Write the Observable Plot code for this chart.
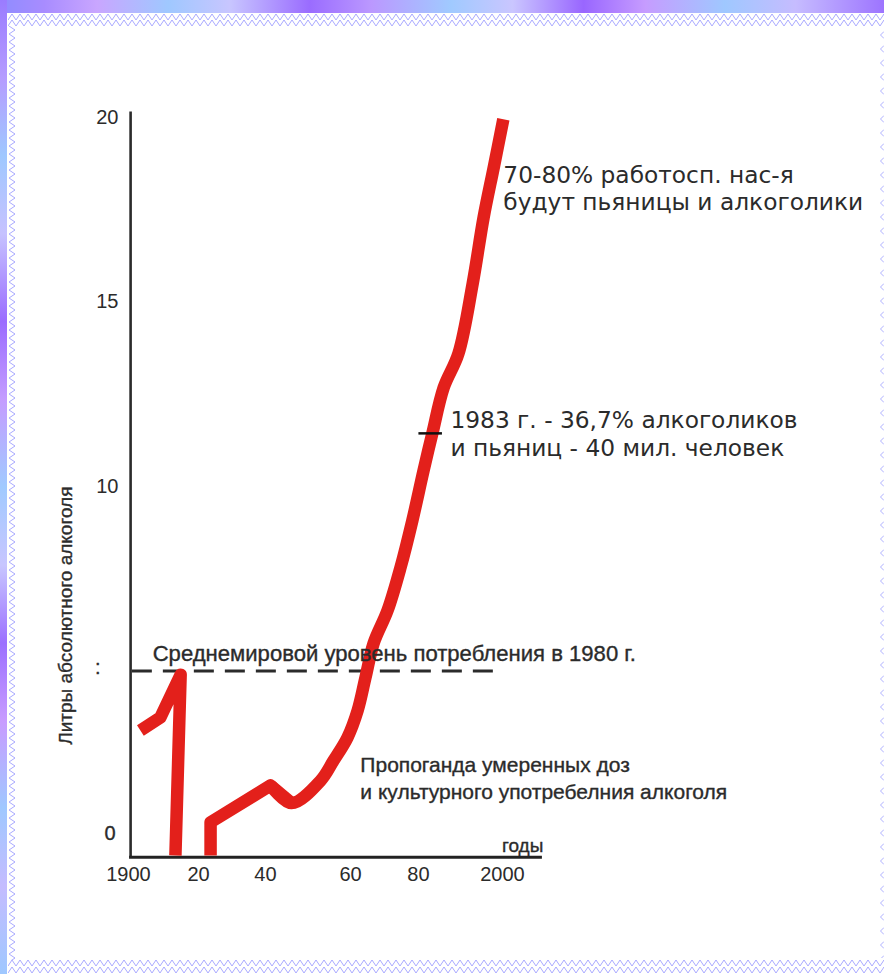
<!DOCTYPE html>
<html>
<head>
<meta charset="utf-8">
<script src="https://cdn.jsdelivr.net/npm/d3@7"></script>
<script src="https://cdn.jsdelivr.net/npm/@observablehq/plot@0.6"></script>
<style>
html, body { margin: 0; padding: 0; background: #fff; }
#wrap { position: relative; width: 884px; height: 974px; overflow: hidden; background: #fff; }
.deco { position: absolute; }
#topbar { left: 0; top: 0; width: 884px; height: 13px;
  background: linear-gradient(90deg, #8f8cff 0%, #a88cff 5%, #c9a6ff 11%, #9fc8ff 19%, #c8c6ff 26%, #9a6cff 35%, #bb98ff 42%, #a0caff 51%, #cac6ff 58%, #9966ff 66%, #c69cff 73%, #9fc8ff 82%, #c6bcff 90%, #9d74ff 100%); }
#leftbar { left: 0; top: 0; width: 7px; height: 974px;
  background: linear-gradient(180deg, #9a7cff 0%, #b59cff 8%, #9fc8ff 16%, #c6c2ff 24%, #9a6cff 33%, #c49cff 41%, #a0caff 50%, #c8c6ff 58%, #9b70ff 66%, #c89cff 74%, #9fc8ff 83%, #c4bcff 91%, #9fc8ff 100%); }
#topzig { left: 8px; top: 13px; width: 876px; height: 14px; background-repeat: repeat-x;
  background-image: url("data:image/svg+xml,%3Csvg xmlns='http://www.w3.org/2000/svg' width='8' height='14'%3E%3Cpath d='M0 7 L4 1 L8 7 M0 13 L4 7 L8 13' fill='none' stroke='%239f9fff' stroke-width='0.9'/%3E%3C/svg%3E"); }
#botzig { left: 8px; top: 959px; width: 876px; height: 15px; background-repeat: repeat-x;
  background-image: url("data:image/svg+xml,%3Csvg xmlns='http://www.w3.org/2000/svg' width='8' height='15'%3E%3Cpath d='M0 7 L4 1 L8 7 M0 14 L4 8 L8 14' fill='none' stroke='%239f9fff' stroke-width='0.9'/%3E%3C/svg%3E"); }
#leftzig { left: 7px; top: 26px; width: 10px; height: 934px; background-repeat: repeat-y;
  background-image: url("data:image/svg+xml,%3Csvg xmlns='http://www.w3.org/2000/svg' width='10' height='8'%3E%3Cpath d='M2 0 L8 4 L2 8' fill='none' stroke='%239f9fff' stroke-width='0.9'/%3E%3C/svg%3E"); }
#rightcirc { left: 875px; top: 28px; width: 9px; height: 930px; background-repeat: repeat-y;
  background-image: url("data:image/svg+xml,%3Csvg xmlns='http://www.w3.org/2000/svg' width='9' height='14'%3E%3Cpath d='M9 3.5 L5.5 7 L9 10.5' fill='none' stroke='%23aeb0ff' stroke-width='1'/%3E%3C/svg%3E"); }
#chart { position: absolute; left: 0; top: 0; }
</style>
</head>
<body>
<div id="wrap">
  <div class="deco" id="topbar"></div>
  <div class="deco" id="leftbar"></div>
  <div class="deco" id="topzig"></div>
  <div class="deco" id="botzig"></div>
  <div class="deco" id="leftzig"></div>
  <div class="deco" id="rightcirc"></div>
  <div id="chart"></div>
</div>
<script>
// ---- data ----
const xTicks = [1900, 1920, 1940, 1960, 1980, 2000];
const xTickLabels = ["1900", "20", "40", "60", "80", "2000"];
const yTicks = [10, 15, 20];
const yLowTicks = [0, 5];
const yLowLabels = ["0", ":"];

// segment before prohibition (rises, then drops to zero)
const earlyYears  = [1903.4, 1909.1, 1914.9, 1913.4];
const earlyValues = [3.39, 3.74, 4.90, 0];

// segment from the 1920s onward
const laterYears  = [1923.6, 1923.6, 1941.2, 1946.1, 1952.9, 1956.0, 1959.3, 1962.1, 1964.4, 1966.8, 1970.9, 1974.7, 1978.2, 1981.2, 1983.3, 1986.0, 1989.5, 1992.9, 1995.5, 1997.9, 2000.2];
const laterValues = [0, 0.90, 1.90, 1.42, 2.02, 2.57, 3.20, 3.93, 4.82, 5.75, 6.64, 7.80, 9.08, 10.43, 11.44, 12.68, 13.60, 15.50, 17.29, 18.64, 19.95];

const worldAverage = 5;          // world average consumption in 1980
const marker1983 = {year: 1982.9, value: 11.44};

const noteTop = "70-80% работосп. нас-я\nбудут пьяницы и алкоголики";
const note1983 = "1983 г. - 36,7% алкоголиков\nи пьяниц - 40 мил. человек";
const noteWorld = "Среднемировой уровень потребления в 1980 г.";
const notePropaganda = "Пропоганда умеренных доз\nи культурного употребелния алкоголя";
const yTitle = "Литры абсолютного алкоголя";
const xTitle = "годы";

// ---- build tables ----
const earlyData = earlyYears.map((year, i) => ({year, value: earlyValues[i]}));
const laterData = laterYears.map((year, i) => ({year, value: laterValues[i]}));
const laterCorner = laterData.slice(0, 4);   // sharp corners of the 1920s–40s
const laterRise = laterData.slice(2);        // smooth post-war rise (overlaps the corner part)

// the hand-drawn year axis is unevenly spaced: warp years before the linear scale
const yearWarp = d3.scaleLinear().domain(xTicks).range([1900, 1918.72, 1936.63, 1959.36, 1977.54, 2000]);
const warpedTicks = xTicks.map(d => yearWarp(d));

const ink = "#2b2b2b";
const red = "#e3201b";
const thick = {stroke: ink, strokeWidth: 0.35};

const chart = Plot.plot({
  width: 884,
  height: 974,
  marginLeft: 128,
  marginRight: 382,
  marginTop: 117,
  marginBottom: 119,
  style: {background: "transparent", color: ink, fontFamily: "'Liberation Sans', Arial, sans-serif", overflow: "visible"},
  x: {domain: [1900, 2000], transform: yearWarp},
  y: {domain: [0, 20]},
  marks: [
    // axis lines
    Plot.ruleX([1900.6], {y1: -0.05, y2: 20.15, stroke: ink, strokeWidth: 2.6}),
    Plot.ruleY([-0.05], {x1: 1900.3, x2: 2009.5, stroke: "#222", strokeWidth: 3}),
    // world average dashed line
    Plot.ruleY([worldAverage], {x1: 1901.1, x2: 1998.3, stroke: ink, strokeWidth: 3, strokeDasharray: "20,11"}),
    // the consumption curve
    Plot.line(earlyData, {x: "year", y: "value", stroke: red, strokeWidth: 12.5, strokeLinejoin: "round", strokeLinecap: "butt"}),
    Plot.line(laterCorner, {x: "year", y: "value", stroke: red, strokeWidth: 12.5, strokeLinejoin: "round", strokeLinecap: "butt"}),
    Plot.line(laterRise, {x: "year", y: "value", stroke: red, strokeWidth: 12.5, strokeLinejoin: "round", strokeLinecap: "butt", curve: "catmull-rom"}),
    // 1983 marker
    Plot.ruleY([marker1983], {y: "value", x1: d => d.year - 2.8, x2: d => d.year + 2.8, stroke: "#111", strokeWidth: 2.5}),
    // axes (ticks given in the warped frame of the x scale)
    Plot.axisX({ticks: warpedTicks, tickFormat: d => xTickLabels[warpedTicks.indexOf(d)], tickSize: 0, tickPadding: 11, fontSize: 20, label: null, ...thick}),
    Plot.axisY({ticks: yTicks, tickSize: 0, tickPadding: 10, fontSize: 20, label: null, ...thick}),
    Plot.text([yLowTicks[1]], {x: 1900, y: d => d, text: d => yLowLabels[yLowTicks.indexOf(d)], textAnchor: "end", dx: -28, dy: -3, fontSize: 20, fill: ink, ...thick}),
    Plot.text([yLowTicks[0]], {x: 1900, y: d => d, text: d => yLowLabels[yLowTicks.indexOf(d)], textAnchor: "end", dx: -13, dy: -22, fontSize: 20, fill: ink, ...thick}),
    // titles
    Plot.text([yTitle], {x: 1900, y: 6.5, text: d => d, rotate: -90, dx: -63, fontSize: 19, fill: ink, ...thick}),
    Plot.text([xTitle], {x: 2004.8, y: 0, text: d => d, dy: -10, fontSize: 19, fill: ink, ...thick}),
    // annotations
    Plot.text([noteTop], {x: 2000.2, y: 18.1, text: d => d, textAnchor: "start", lineAnchor: "middle", lineHeight: 1.15, fontSize: 23.3, fontFamily: "'DejaVu Sans', sans-serif", fill: ink}),
    Plot.text([note1983], {x: 1987.6, y: 11.46, text: d => d, textAnchor: "start", lineAnchor: "middle", lineHeight: 1.2, fontSize: 23.3, fontFamily: "'DejaVu Sans', sans-serif", fill: ink}),
    Plot.text([noteWorld], {x: 1906.9, y: 5.47, text: d => d, textAnchor: "start", fontSize: 22.1, fill: ink, ...thick}),
    Plot.text([notePropaganda], {x: 1962.9, y: 2.14, text: d => d, textAnchor: "start", lineAnchor: "middle", lineHeight: 1.33, fontSize: 21, fill: ink, ...thick})
  ]
});
document.getElementById("chart").appendChild(chart);
</script>
</body>
</html>
